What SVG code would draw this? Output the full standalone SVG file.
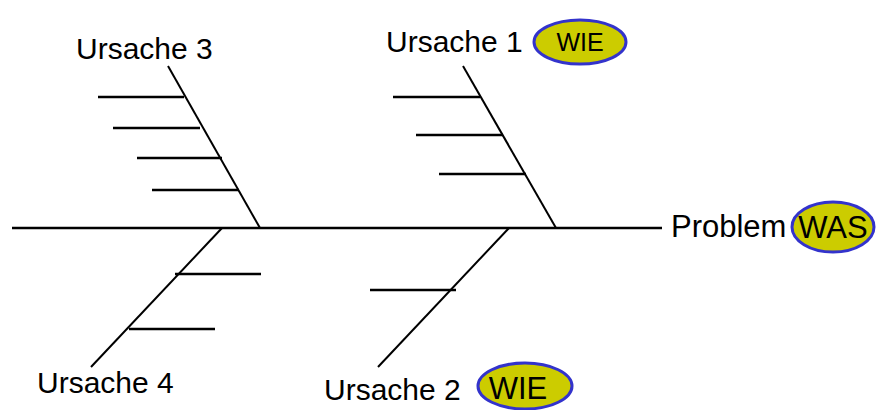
<svg xmlns="http://www.w3.org/2000/svg" width="876" height="410" viewBox="0 0 876 410">
  <style>
    .bone { stroke: #000; stroke-width: 2; fill: none; }
    .rib { stroke: #000; stroke-width: 2.6; fill: none; }
    .spine { stroke: #000; stroke-width: 2.6; fill: none; }
    .lbl { font-family: "Liberation Sans", Arial, sans-serif; font-size: 30px; fill: #000; }
    .big { font-size: 31px; }
    .tag { fill: #cccc00; stroke: #3333cc; stroke-width: 3; }
  </style>
  <rect width="876" height="410" fill="#fff"/>

  <!-- fishbone lines -->
  <g id="connectors">
    <line class="spine" x1="12" y1="228" x2="662" y2="228"/>
    <!-- cause 3 -->
    <line class="bone" x1="168" y1="66" x2="260" y2="228"/>
    <line class="rib" x1="98" y1="97" x2="184" y2="97"/>
    <line class="rib" x1="113" y1="128" x2="200" y2="128"/>
    <line class="rib" x1="137" y1="158" x2="222" y2="158"/>
    <line class="rib" x1="152" y1="190" x2="239" y2="190"/>
    <!-- cause 1 -->
    <line class="bone" x1="463" y1="66" x2="556" y2="228"/>
    <line class="rib" x1="393" y1="97" x2="480" y2="97"/>
    <line class="rib" x1="416" y1="135" x2="503" y2="135"/>
    <line class="rib" x1="439" y1="174" x2="526" y2="174"/>
    <!-- cause 4 -->
    <line class="bone" x1="222" y1="228" x2="91" y2="367"/>
    <line class="rib" x1="175" y1="274" x2="261" y2="274"/>
    <line class="rib" x1="129" y1="329" x2="215" y2="329"/>
    <!-- cause 2 -->
    <line class="bone" x1="509" y1="228" x2="378" y2="367"/>
    <line class="rib" x1="370" y1="290" x2="456" y2="290"/>
  </g>

  <g id="cause3">
    <text class="lbl" x="76" y="59">Ursache 3</text>
  </g>

  <g id="cause1">
    <text class="lbl" x="386" y="52">Ursache 1</text>
    <ellipse class="tag" cx="580" cy="42" rx="46" ry="22"/>
    <text class="lbl" x="580" y="51" text-anchor="middle" style="font-size:25px">WIE</text>
  </g>

  <g id="cause4">
    <text class="lbl" x="37" y="393">Ursache 4</text>
  </g>

  <g id="cause2">
    <text class="lbl" x="324" y="400">Ursache 2</text>
    <ellipse class="tag" cx="525" cy="386" rx="47" ry="23"/>
    <text class="lbl big" x="518" y="399" text-anchor="middle">WIE</text>
  </g>

  <g id="problem">
    <text class="lbl big" x="671" y="237">Problem</text>
    <ellipse class="tag" cx="833" cy="227" rx="41" ry="25"/>
    <text class="lbl big" x="833" y="238" text-anchor="middle">WAS</text>
  </g>
</svg>
